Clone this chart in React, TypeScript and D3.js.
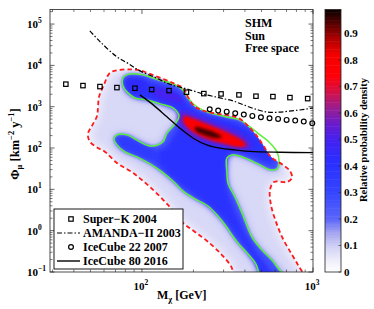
import React from "react";
import * as d3 from "d3";

type Pt = [number, number]; // [mass GeV, flux km^-2 y^-1]

// 95% region (red dashed)
const outer95: Pt[] = [
  [65.0, 6580], [74.3, 7780], [87.4, 8000], [97.3, 7570], [111.4, 6230], [132.7, 4710],
  [156, 3560], [173.6, 2850], [185.7, 1726], [198.6, 1106], [221.3, 837], [250, 728],
  [293.8, 651], [335.7, 599], [374, 507], [416.9, 343], [464.3, 208], [510, 119],
  [568, 60.9], [667.7, 39.0], [733.4, 27.9], [753.4, 18.9], [705.2, 15.1], [591.6, 15.1],
  [560.5, 9.66], [568, 4.19], [607.8, 1.63], [667.7, 0.629], [743, 0.289], [816.5, 0.148],
  [885, 0.07], [359, 0.07], [331, 0.14], [285.8, 0.289], [240, 0.564], [204.2, 0.931],
  [171.4, 1.63], [141.9, 4.19], [111.4, 11.4], [88.6, 25.0], [71.4, 43.6], [59.9, 85.1],
  [55.3, 100.5], [49.7, 141], [48.3, 219], [51.0, 343], [54.6, 599], [55.3, 935],
  [56.1, 1726], [59.9, 3370]
];

// 68% region (green)
const inner68: Pt[] = [
  [77.4, 4980], [82.8, 6050], [101.4, 5890], [122.4, 4580], [151.8, 3560], [173.6, 2550],
  [185.7, 1630], [209.9, 989], [250, 708], [313.9, 566], [374, 479], [428.3, 324],
  [489.9, 208], [560.5, 133], [615.9, 80.5], [632.7, 46.1], [615.9, 31.2], [568, 29.5],
  [476.9, 41.2], [400, 57.6], [335.7, 68.1], [313.9, 57.6], [313.9, 25.0], [318.2, 14.3],
  [349.9, 6.55], [384.5, 2.69], [440, 0.703], [503.3, 0.341], [575.9, 0.195], [624.3, 0.125],
  [690, 0.07], [503, 0.07], [464.3, 0.156], [416.9, 0.273], [364, 0.504], [335.7, 0.787],
  [309.7, 1.30], [278, 2.27], [243.2, 3.96], [204.2, 5.86], [176.1, 8.65], [153.9, 15.1],
  [130.9, 26.4], [111.4, 41.2], [93.5, 60.9], [79.6, 80.5], [71.4, 119], [68.5, 166],
  [71.4, 208], [81.7, 208], [97.3, 141], [111.4, 112], [124.1, 119], [132.7, 141],
  [140.1, 232], [156, 384], [164.5, 599], [151.8, 935], [127.4, 1170], [107, 1460],
  [91.0, 1630], [82.8, 2160], [77.4, 3190]
];

// denser parts of the posterior
const coreBlue: Pt[] = [
  [80.6, 4220], [94.8, 4710], [114.4, 3770], [141.9, 2850], [166.8, 1930], [185.7, 1170],
  [212.3, 791], [256.6, 599], [318.2, 479], [384.5, 363], [451.6, 232], [524, 133],
  [575.9, 68.1], [583.7, 41.2], [530.5, 43.6], [440, 60.9], [364, 80.5], [327.1, 72.0],
  [313.9, 39.0], [313.9, 12.8], [331.1, 5.54], [359.5, 2.40], [400, 0.931], [458.4, 0.341],
  [516.9, 0.175], [600, 0.07], [524, 0.07], [440, 0.218], [389.7, 0.451], [335.7, 1.04],
  [293.8, 2.03], [233.5, 4.69], [190.9, 8.65], [149.5, 18.9], [127.4, 36.9], [119.2, 57.6],
  [124.1, 85.1], [138.2, 106], [149.5, 176], [162.4, 307], [171.4, 507], [162.4, 791],
  [141.9, 1045], [119.2, 1380], [97.3, 1630], [85.1, 2040], [80.6, 2850]
];
const tongueBlue: Pt[] = [
  [72.4, 176], [82.8, 186], [100, 126], [119.2, 89.9], [127.4, 51.5], [111.4, 51.5],
  [91.0, 72.0], [76.4, 100.5], [71.4, 133]
];
const bandEnd: Pt[] = [
  [80.6, 4460], [92.2, 4980], [105.5, 3980], [104.1, 2280], [91.0, 2160], [81.7, 2850]
];
const purplePatch: Pt[] = [
  [119.2, 2850], [141.9, 2550], [166.8, 1830], [173.6, 1240], [156, 1240], [130.9, 1545],
  [114.4, 2040]
];
const purpleRing: Pt[] = [
  [166, 760], [190.9, 690], [236.7, 495], [293.8, 355], [364, 240], [420, 155],
  [440, 104], [384.5, 90], [309.7, 105], [243.2, 132], [198, 180], [174, 280],
  [163, 470]
];
const redRidge: Pt[] = [
  [176.1, 599], [196, 536], [233.5, 405], [285.8, 290], [340.6, 208], [389.7, 149],
  [405.6, 112], [364, 106], [305.6, 126], [250, 157], [207, 219], [183.2, 324], [173.6, 453]
];
const peakCore: Pt[] = [
  [204.2, 324], [233.5, 290], [271, 232], [293.8, 186], [267.3, 176], [230.6, 208], [207, 259]
];

const regionShapes = [inner68, inner68, coreBlue, tongueBlue, bandEnd, purplePatch, purpleRing, redRidge, peakCore];
const regionLevels = [0.15, 0.27, 0.4, 0.36, 0.43, 0.5, 0.54, 0.77, 0.95];

// experimental limits
const superKMass = [35.9, 45.2, 56.8, 71.4, 91, 114, 144, 182, 230, 290, 369, 464, 583, 733, 931];
const superKFlux = [3510, 3240, 3070, 2900, 2800, 2600, 2450, 2245, 2075, 2040, 1930, 1795, 1757, 1662, 1570];
const amandaMass = [49.6, 56.8, 71.1, 82.8, 97.3, 121.9, 145.9, 182.4, 227.5, 285.8, 340.6, 400, 476.9, 545.6, 624.3, 751, 898, 1000];
const amandaFlux = [68400, 37700, 16300, 11200, 7360, 4900, 3470, 2700, 2040, 1630, 1380, 1075, 837, 736, 736, 791, 869, 935];
const ic22Mass = [249, 279, 313, 351, 394, 442, 496, 557, 625, 701, 787, 883, 990];
const ic22Flux = [869, 805, 760, 696, 644, 599, 557, 527, 507, 479, 461, 436, 398];
const ic80Mass = [97.3, 116.4, 139.4, 166.7, 199.5, 239, 286, 350, 428, 641, 1000];
const ic80Flux = [1931, 1107, 576, 301, 173, 119, 99, 90, 83, 79, 77];

const yDecades = [-1, 0, 1, 2, 3, 4, 5];
const xDecades = [2, 3];
const cbarTicks = [0, 0.1, 0.2, 0.3, 0.4, 0.5, 0.6, 0.7, 0.8, 0.9];
const notes = ["SHM", "Sun", "Free space"];
const legendLabels = ["Super\u2212K 2004", "AMANDA\u2212II 2003", "IceCube 22 2007", "IceCube 80 2016"];

const cmapStops = [0, 0.05, 0.1, 0.15, 0.2, 0.3, 0.42, 0.5, 0.56, 0.62, 0.68, 0.74, 0.82, 0.88, 0.94, 0.99];
const cmapColors = ["#ffffff", "#ececfb", "#cfcff5", "#a4a4f0", "#5c66fa", "#3446ff", "#2a2eff", "#4420f0",
  "#6a1ccc", "#9a1e90", "#d41048", "#ff0008", "#f40000", "#b00000", "#560000", "#0a0000"];

const FONT = "'Liberation Serif', 'Times New Roman', serif";

export default function App() {
  const x = d3.scaleLog().domain([29, 1000]).range([50, 313]);
  const y = d3.scaleLog().domain([0.1, 2.25e5]).range([272, 9.5]);
  const cb = d3.scaleLinear().domain([0, 0.99]).range([272, 9.5]);
  const cmap = d3.scaleLinear<string>().domain(cmapStops).range(cmapColors)
    .interpolate(d3.interpolateRgb).clamp(true);

  const closed = d3.line<Pt>().x(d => x(d[0])).y(d => y(d[1]))
    .curve(d3.curveCatmullRomClosed.alpha(0.5));
  const open = d3.line<Pt>().x(d => x(d[0])).y(d => y(d[1]))
    .curve(d3.curveCatmullRom.alpha(0.5));

  const blurs = [4, 1.5, 2.5, 2, 2, 2, 2, 1.5, 1.5];

  const x0 = 50, x1 = 313, y0 = 9.5, y1 = 272;

  const yMinor: number[] = [];
  for (let k = -1; k <= 5; k++) for (let m = 2; m <= 9; m++) {
    const v = m * Math.pow(10, k);
    if (v < 2.25e5) yMinor.push(v);
  }
  const xMinor: number[] = [];
  for (let k = 1; k <= 2; k++) for (let m = 2; m <= 9; m++) {
    const v = m * Math.pow(10, k);
    if (v >= 29) xMinor.push(v);
  }

  const amanda: Pt[] = amandaMass.map((m, i) => [m, amandaFlux[i]]);
  const ic80: Pt[] = ic80Mass.map((m, i) => [m, ic80Flux[i]]);

  const cbSteps = d3.range(0, 99).map(i => i / 100);
  const fid = (s: number) => `blur${String(s).replace(".", "_")}`;

  return (
    <svg width={374} height={309} style={{ position: "absolute", left: 0, top: 0, background: "#fff" }}
      fontFamily={FONT} fontWeight="bold">
      <defs>
        <clipPath id="plotClip"><rect x={x0} y={y0} width={x1 - x0} height={y1 - y0} /></clipPath>
        <clipPath id="outerClip"><path d={closed(outer95) || ""} /></clipPath>
        {[1.5, 2, 2.5, 4, 6].map(s => (
          <filter key={s} id={fid(s)} x="-30%" y="-30%" width="160%" height="160%">
            <feGaussianBlur stdDeviation={s} />
          </filter>
        ))}
      </defs>

      <g clipPath="url(#plotClip)">
        <g clipPath="url(#outerClip)">
          <path d={closed(outer95) || ""} fill={cmap(0.085)} filter={`url(#${fid(6)})`} />
          {regionShapes.map((shape, i) => (
            <path key={i} d={closed(shape) || ""} fill={cmap(regionLevels[i])}
              filter={`url(#${fid(blurs[i])})`} />
          ))}
        </g>
        <path d={closed(inner68) || ""} fill="none" stroke="#5cf03a" strokeWidth={1.5} />
        <path d={closed(outer95) || ""} fill="none" stroke="#ff1a1a" strokeWidth={1.8} strokeDasharray="4.5 3" />
        <path d={open(ic80) || ""} fill="none" stroke="#000" strokeWidth={1.3} />
        <path d={open(amanda) || ""} fill="none" stroke="#000" strokeWidth={1.2} strokeDasharray="5 2 1.5 2" />
      </g>

      {superKMass.map((m, i) => (
        <rect key={`s${i}`} x={x(m) - 2.2} y={y(superKFlux[i]) - 2.2} width={4.4} height={4.4}
          fill="none" stroke="#000" strokeWidth={1.2} />
      ))}
      {ic22Mass.map((m, i) => (
        <circle key={`c${i}`} cx={x(m)} cy={y(ic22Flux[i])} r={2.4} fill="none" stroke="#000" strokeWidth={1.2} />
      ))}

      <rect x={x0} y={y0} width={x1 - x0} height={y1 - y0} fill="none" stroke="#222" strokeWidth={0.8} />
      {yDecades.map(k => {
        const py = y(Math.pow(10, k));
        return (
          <g key={`yt${k}`}>
            <line x1={x0} x2={x0 + 4.5} y1={py} y2={py} stroke="#222" strokeWidth={0.7} />
            <line x1={x1} x2={x1 - 4.5} y1={py} y2={py} stroke="#222" strokeWidth={0.7} />
            <text x={27} y={py + 4} fontSize={11}>10<tspan dy={-5} fontSize={7.5}>{k < 0 ? `\u2212${-k}` : k}</tspan></text>
          </g>
        );
      })}
      {yMinor.map((v, i) => (
        <g key={`ym${i}`}>
          <line x1={x0} x2={x0 + 2.5} y1={y(v)} y2={y(v)} stroke="#222" strokeWidth={0.6} />
          <line x1={x1} x2={x1 - 2.5} y1={y(v)} y2={y(v)} stroke="#222" strokeWidth={0.6} />
        </g>
      ))}
      {xDecades.map(k => {
        const px = x(Math.pow(10, k));
        return (
          <g key={`xt${k}`}>
            <line x1={px} x2={px} y1={y1} y2={y1 - 4.5} stroke="#222" strokeWidth={0.7} />
            <line x1={px} x2={px} y1={y0} y2={y0 + 4.5} stroke="#222" strokeWidth={0.7} />
            <text x={px - 1} y={290} fontSize={11} textAnchor="middle">10<tspan dy={-5} fontSize={7.5}>{k}</tspan></text>
          </g>
        );
      })}
      {xMinor.map((v, i) => (
        <g key={`xm${i}`}>
          <line x1={x(v)} x2={x(v)} y1={y1} y2={y1 - 2.5} stroke="#222" strokeWidth={0.6} />
          <line x1={x(v)} x2={x(v)} y1={y0} y2={y0 + 2.5} stroke="#222" strokeWidth={0.6} />
        </g>
      ))}

      <text x={157} y={299} fontSize={12}>M<tspan dy={3} fontSize={8.5}>χ</tspan><tspan dy={-3}> [GeV]</tspan></text>
      <text transform="translate(19,144) rotate(-90)" textAnchor="middle" fontSize={12.5}>
        Φ<tspan dy={3} fontSize={8.5}>μ</tspan><tspan dy={-3}> [km</tspan>
        <tspan dy={-5} fontSize={8.5}>−2</tspan><tspan dy={5}> y</tspan>
        <tspan dy={-5} fontSize={8.5}>−1</tspan><tspan dy={5}>]</tspan>
      </text>

      {notes.map((t, i) => (
        <text key={t} x={245} y={27 + i * 12.5} fontSize={12}>{t}</text>
      ))}

      <rect x={54} y={209} width={129} height={60} fill="#fff" stroke="#000" strokeWidth={0.9} />
      {legendLabels.map((t, i) => {
        const ly = 219 + i * 14;
        return (
          <g key={t}>
            {i === 0 && <rect x={71 - 2.2} y={ly - 2.2} width={4.4} height={4.4} fill="none" stroke="#000" strokeWidth={1.2} />}
            {i === 1 && <line x1={57} x2={80} y1={ly} y2={ly} stroke="#000" strokeWidth={1.2} strokeDasharray="5 2 1.5 2" />}
            {i === 2 && <circle cx={71} cy={ly} r={2.4} fill="none" stroke="#000" strokeWidth={1.2} />}
            {i === 3 && <line x1={57} x2={80} y1={ly} y2={ly} stroke="#000" strokeWidth={1.4} />}
            <text x={83} y={ly + 4} fontSize={12}>{t}</text>
          </g>
        );
      })}

      {cbSteps.map(v => (
        <rect key={`cb${v}`} x={325} y={cb(v + 0.01)} width={16} height={cb(v) - cb(v + 0.01) + 0.5} fill={cmap(v + 0.005)} />
      ))}
      <rect x={325} y={9.5} width={16} height={262.5} fill="none" stroke="#222" strokeWidth={0.8} />
      {cbarTicks.map(t => (
        <g key={`cbt${t}`}>
          <line x1={341} x2={338.5} y1={cb(t)} y2={cb(t)} stroke="#222" strokeWidth={0.6} />
          <text x={344} y={cb(t) + 4} fontSize={11}>{t === 0 ? "0" : t.toFixed(1)}</text>
        </g>
      ))}
      <text transform="translate(367,140) rotate(-90)" textAnchor="middle" fontSize={10.5}>Relative probability density</text>
    </svg>
  );
}
